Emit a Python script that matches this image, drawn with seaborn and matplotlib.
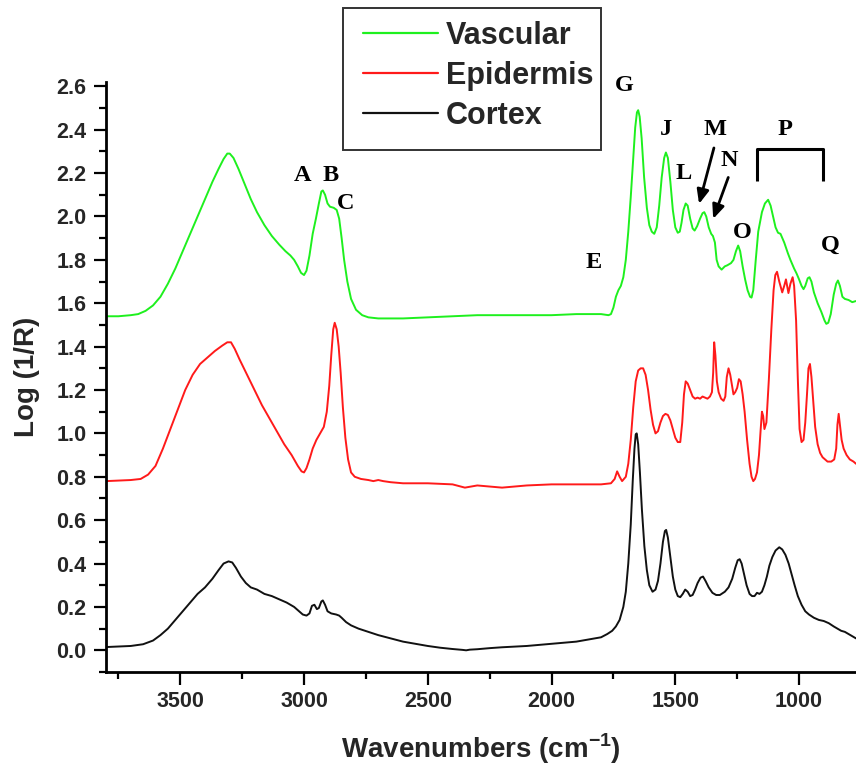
import numpy as np
import pandas as pd
import matplotlib
matplotlib.use("Agg")
import matplotlib.pyplot as plt
from matplotlib.ticker import MultipleLocator, FormatStrFormatter
from matplotlib.patches import Rectangle
from matplotlib.lines import Line2D
import seaborn as sns

# FTIR spectra (wavenumber in cm^-1, Log(1/R))
vascular_wn = [3800, 3750, 3700, 3670, 3640, 3610, 3580, 3550, 3520, 3490, 3460, 3430, 3400,
               3370, 3345, 3325, 3310, 3300, 3285, 3265, 3240, 3215, 3190, 3160, 3130, 3100,
               3075, 3055, 3040, 3025, 3012, 3000, 2990, 2978, 2965, 2952, 2940, 2930, 2924,
               2915, 2905, 2895, 2880, 2868, 2858, 2848, 2838, 2825, 2810, 2790, 2765, 2740,
               2700, 2650, 2600, 2500, 2400, 2300, 2200, 2100, 2000, 1900, 1800, 1770, 1760,
               1750, 1740, 1730, 1720, 1710, 1700, 1690, 1680, 1670, 1662, 1655, 1650, 1644,
               1636, 1626, 1615, 1605, 1595, 1585, 1575, 1565, 1555, 1545, 1538, 1530, 1520,
               1510, 1500, 1490, 1482, 1475, 1467, 1458, 1450, 1440, 1430, 1422, 1412, 1400,
               1390, 1383, 1375, 1365, 1355, 1348, 1340, 1333, 1325, 1313, 1300, 1290, 1275,
               1265, 1255, 1246, 1238, 1228, 1218, 1208, 1198, 1192, 1185, 1175, 1165, 1150,
               1138, 1125, 1115, 1105, 1095, 1085, 1075, 1060, 1045, 1035, 1020, 1010, 1000,
               990, 982, 975, 965, 958, 950, 940, 925, 910, 897, 890, 882, 872, 860, 850, 843,
               835, 825, 815, 800, 785, 771]
vascular_val = [1.54, 1.54, 1.545, 1.55, 1.565, 1.59, 1.63, 1.69, 1.76, 1.84, 1.92, 2.00, 2.08,
                2.16, 2.22, 2.265, 2.29, 2.29, 2.27, 2.22, 2.15, 2.08, 2.02, 1.96, 1.91, 1.87,
                1.84, 1.82, 1.80, 1.77, 1.74, 1.73, 1.75, 1.82, 1.92, 1.99, 2.06, 2.115, 2.12,
                2.10, 2.06, 2.045, 2.04, 2.03, 1.99, 1.90, 1.80, 1.70, 1.62, 1.57, 1.545, 1.535,
                1.53, 1.53, 1.53, 1.535, 1.54, 1.545, 1.545, 1.545, 1.545, 1.55, 1.55, 1.545, 1.55,
                1.58, 1.63, 1.66, 1.68, 1.72, 1.80, 1.93, 2.09, 2.27, 2.41, 2.48, 2.49, 2.46,
                2.36, 2.18, 2.04, 1.96, 1.93, 1.92, 1.95, 2.05, 2.18, 2.27, 2.295, 2.27, 2.16,
                2.03, 1.95, 1.925, 1.93, 1.97, 2.03, 2.06, 2.05, 1.99, 1.945, 1.935, 1.955, 1.99,
                2.015, 2.02, 2.00, 1.95, 1.92, 1.91, 1.88, 1.80, 1.77, 1.755, 1.77, 1.775, 1.785,
                1.80, 1.84, 1.866, 1.84, 1.77, 1.71, 1.66, 1.63, 1.626, 1.66, 1.80, 1.93, 2.02,
                2.06, 2.077, 2.05, 2.00, 1.95, 1.925, 1.92, 1.88, 1.83, 1.80, 1.76, 1.737, 1.71,
                1.68, 1.665, 1.68, 1.715, 1.72, 1.70, 1.65, 1.60, 1.56, 1.52, 1.505, 1.51, 1.55,
                1.64, 1.69, 1.705, 1.68, 1.63, 1.62, 1.615, 1.605, 1.61]

epidermis_wn = [3800, 3700, 3660, 3630, 3600, 3570, 3540, 3510, 3480, 3450, 3420, 3390, 3360,
                3330, 3310, 3295, 3280, 3260, 3230, 3200, 3170, 3140, 3110, 3080, 3050, 3025,
                3010, 3000, 2990, 2978, 2965, 2950, 2935, 2920, 2908, 2898, 2890, 2882, 2876,
                2868, 2860, 2852, 2843, 2833, 2822, 2810, 2795, 2770, 2740, 2720, 2700, 2680,
                2650, 2600, 2500, 2400, 2350, 2300, 2250, 2200, 2100, 2000, 1900, 1800, 1760,
                1745, 1735, 1725, 1715, 1700, 1690, 1680, 1670, 1660, 1650, 1640, 1630, 1620,
                1610, 1600, 1590, 1580, 1570, 1560, 1550, 1540, 1530, 1520, 1510, 1500, 1490,
                1480, 1472, 1465, 1458, 1450, 1440, 1430, 1420, 1410, 1400, 1390, 1380, 1370,
                1360, 1352, 1347, 1343, 1338, 1332, 1325, 1315, 1305, 1298, 1292, 1285, 1278,
                1272, 1265, 1258, 1250, 1243, 1236, 1228, 1220, 1210, 1200, 1192, 1185, 1178,
                1170, 1162, 1155, 1150, 1145, 1140, 1132, 1122, 1112, 1103, 1096, 1089, 1080,
                1068, 1060, 1053, 1048, 1043, 1035, 1026, 1020, 1012, 1005, 998, 990, 982,
                975, 968, 962, 956, 950, 943, 935, 925, 915, 905, 895, 885, 870, 858, 850,
                845, 840, 835, 828, 820, 808, 795, 780, 770]
epidermis_val = [0.78, 0.785, 0.79, 0.81, 0.85, 0.93, 1.02, 1.11, 1.20, 1.27, 1.32, 1.35, 1.38,
                 1.405, 1.42, 1.42, 1.39, 1.34, 1.27, 1.20, 1.13, 1.07, 1.01, 0.95, 0.90, 0.85,
                 0.825, 0.82, 0.84, 0.88, 0.93, 0.97, 1.00, 1.03, 1.10, 1.22, 1.36, 1.48, 1.51,
                 1.48, 1.40, 1.28, 1.12, 0.98, 0.88, 0.82, 0.80, 0.79, 0.785, 0.78, 0.785, 0.78,
                 0.775, 0.77, 0.77, 0.765, 0.75, 0.76, 0.755, 0.75, 0.76, 0.765, 0.765, 0.765, 0.77,
                 0.79, 0.825, 0.80, 0.78, 0.80, 0.86, 0.97, 1.12, 1.24, 1.29, 1.30, 1.30, 1.27,
                 1.20, 1.11, 1.04, 1.00, 1.01, 1.05, 1.08, 1.09, 1.085, 1.06, 1.02, 0.98, 0.96,
                 0.96, 1.05, 1.18, 1.24, 1.23, 1.20, 1.17, 1.16, 1.165, 1.16, 1.17, 1.165, 1.16,
                 1.17, 1.19, 1.28, 1.42, 1.36, 1.24, 1.19, 1.16, 1.15, 1.17, 1.26, 1.30, 1.27,
                 1.23, 1.18, 1.19, 1.21, 1.25, 1.24, 1.18, 1.10, 0.97, 0.86, 0.80, 0.78, 0.79,
                 0.82, 0.90, 1.02, 1.10, 1.08, 1.02, 1.05, 1.25, 1.48, 1.66, 1.73, 1.745, 1.70,
                 1.65, 1.68, 1.71, 1.68, 1.647, 1.69, 1.72, 1.68, 1.52, 1.25, 1.02, 0.96, 0.97,
                 1.05, 1.18, 1.30, 1.32, 1.26, 1.15, 1.03, 0.95, 0.91, 0.89, 0.88, 0.87, 0.87,
                 0.88, 0.93, 1.04, 1.09, 1.04, 0.97, 0.93, 0.90, 0.88, 0.87, 0.86]

cortex_wn = [3800, 3700, 3650, 3610, 3580, 3550, 3520, 3490, 3460, 3430, 3400, 3370, 3345,
             3325, 3305, 3290, 3275, 3255, 3235, 3215, 3190, 3160, 3130, 3100, 3070, 3040,
             3020, 3005, 2990, 2978, 2968, 2958, 2948, 2940, 2930, 2924, 2915, 2905, 2890,
             2870, 2858, 2848, 2830, 2810, 2780, 2740, 2700, 2650, 2600, 2550, 2500, 2450,
             2400, 2360, 2345, 2330, 2300, 2250, 2200, 2100, 2000, 1900, 1850, 1800, 1775,
             1755, 1740, 1725, 1710, 1700, 1690, 1680, 1672, 1665, 1660, 1656, 1650, 1643,
             1635, 1625, 1615, 1605, 1592, 1580, 1570, 1560, 1550, 1542, 1537, 1530, 1520,
             1510, 1500, 1490, 1480, 1470, 1460, 1450, 1440, 1430, 1420, 1410, 1398, 1388,
             1378, 1365, 1350, 1335, 1320, 1300, 1285, 1270, 1258, 1248, 1240, 1232, 1222,
             1212, 1200, 1190, 1180, 1170, 1160, 1150, 1140, 1130, 1120, 1108, 1095, 1080,
             1068, 1055, 1042, 1030, 1018, 1005, 990, 975, 960, 940, 920, 900, 880, 860,
             845, 830, 815, 800, 785, 770]
cortex_val = [0.015, 0.02, 0.028, 0.045, 0.07, 0.10, 0.14, 0.18, 0.22, 0.26, 0.29, 0.33, 0.37,
              0.40, 0.41, 0.405, 0.38, 0.34, 0.31, 0.29, 0.28, 0.26, 0.25, 0.235, 0.22, 0.20,
              0.18, 0.165, 0.16, 0.17, 0.205, 0.21, 0.19, 0.195, 0.225, 0.23, 0.21, 0.18, 0.17,
              0.165, 0.16, 0.15, 0.13, 0.115, 0.10, 0.085, 0.07, 0.055, 0.04, 0.03, 0.02, 0.012,
              0.006, 0.002, 0.0, 0.003, 0.005, 0.01, 0.014, 0.02, 0.03, 0.04, 0.05, 0.06, 0.075,
              0.09, 0.11, 0.14, 0.20, 0.27, 0.40, 0.58, 0.78, 0.93, 0.995, 1.00, 0.95, 0.82,
              0.65, 0.48, 0.37, 0.30, 0.27, 0.28, 0.32, 0.40, 0.50, 0.55, 0.555, 0.52, 0.43,
              0.34, 0.28, 0.25, 0.245, 0.26, 0.28, 0.27, 0.25, 0.255, 0.28, 0.31, 0.335, 0.34,
              0.32, 0.29, 0.265, 0.255, 0.255, 0.27, 0.29, 0.33, 0.38, 0.415, 0.42, 0.40, 0.35,
              0.30, 0.26, 0.25, 0.25, 0.265, 0.26, 0.27, 0.30, 0.34, 0.39, 0.43, 0.46, 0.475,
              0.465, 0.44, 0.40, 0.35, 0.30, 0.25, 0.21, 0.18, 0.165, 0.15, 0.14, 0.135, 0.125, 0.11,
              0.10, 0.09, 0.085, 0.075, 0.065, 0.055]

series_names = ["Vascular", "Epidermis", "Cortex"]
series_colors = {"Vascular": "#1EF01E", "Epidermis": "#FF1A1A", "Cortex": "#111111"}

# Band labels: (text, wavenumber, value)
band_labels = [("A", 3007, 2.19), ("B", 2891, 2.19), ("C", 2831, 2.06), ("E", 1828, 1.79),
               ("G", 1704, 2.606), ("J", 1539, 2.40), ("L", 1468, 2.196), ("M", 1340, 2.40),
               ("N", 1283, 2.257), ("O", 1230, 1.927), ("P", 1055, 2.40), ("Q", 872, 1.866)]
# Arrows: (tail wn, tail val, head wn, head val)
band_arrows = [(1344, 2.316, 1404, 2.058), (1286, 2.180, 1347, 1.989)]
# Bracket spanning the P region
bracket_wn = [1169, 903]
bracket_val = [2.165, 2.311]

frames = []
for name, wn, val in [("Vascular", vascular_wn, vascular_val),
                      ("Epidermis", epidermis_wn, epidermis_val),
                      ("Cortex", cortex_wn, cortex_val)]:
    frames.append(pd.DataFrame({"wn": wn, "val": val, "tissue": name}))
df = pd.concat(frames, ignore_index=True)

sns.set_theme(style="ticks")
plt.rcParams["font.family"] = ["Liberation Sans", "DejaVu Sans"]
plt.rcParams["font.weight"] = "bold"
plt.rcParams["mathtext.fontset"] = "custom"
plt.rcParams["mathtext.rm"] = "Liberation Sans:bold"
plt.rcParams["mathtext.bf"] = "Liberation Sans:bold"

fig = plt.figure(figsize=(8.56, 7.73), dpi=100)
W, H = 856, 773
ax = fig.add_axes([106 / W, (H - 672) / H, 750 / W, 590 / H])

sns.lineplot(data=df, x="wn", y="val", hue="tissue", hue_order=series_names,
             palette=series_colors, estimator=None, sort=True, linewidth=1.4,
             ax=ax, legend=False)

ax.set_xlim(3800, 770)
ax.set_ylim(-0.1, 2.62)
ax.xaxis.set_major_locator(MultipleLocator(500))
ax.xaxis.set_minor_locator(MultipleLocator(250))
ax.yaxis.set_major_locator(MultipleLocator(0.2))
ax.yaxis.set_minor_locator(MultipleLocator(0.1))
ax.yaxis.set_major_formatter(FormatStrFormatter("%.1f"))

for s in ["top", "right"]:
    ax.spines[s].set_visible(False)
for s in ["left", "bottom"]:
    ax.spines[s].set_linewidth(2.0)
    ax.spines[s].set_color("black")

ax.tick_params(axis="both", which="major", direction="out", length=9, width=1.6,
               labelsize=15.5, color="black")
ax.tick_params(axis="both", which="minor", direction="out", length=5, width=1.6,
               color="black")
ax.tick_params(axis="x", which="major", pad=5)
ax.tick_params(axis="y", which="major", pad=5)
for lbl in ax.get_xticklabels() + ax.get_yticklabels():
    lbl.set_fontweight("bold")

ax.set_xlabel(r"Wavenumbers (cm$^{-1}$)", fontsize=20, fontweight="bold", labelpad=14)
ax.set_ylabel("Log (1/R)", fontsize=20, fontweight="bold", labelpad=12)

# Band letters, arrows and bracket
for txt, x, y in band_labels:
    ax.text(x, y, txt, ha="center", va="center", fontsize=17.5, fontweight="bold",
            family=["Liberation Serif", "DejaVu Serif"], color="black")
for x0, y0, x1, y1 in band_arrows:
    ax.annotate("", xy=(x1, y1), xytext=(x0, y0),
                arrowprops=dict(arrowstyle="-|>,head_length=0.7,head_width=0.3",
                                color="black", lw=2.0, shrinkA=0, shrinkB=0))
ax.plot([bracket_wn[0], bracket_wn[0], bracket_wn[1], bracket_wn[1]],
        [bracket_val[0], bracket_val[1], bracket_val[1], bracket_val[0]],
        color="black", lw=2.2, solid_capstyle="butt", clip_on=False)

# Legend with a square frame
handles = [Line2D([], [], color=series_colors[n], lw=1.6) for n in series_names]
leg = fig.legend(handles, series_names, loc="upper left",
                 bbox_to_anchor=(363 / W, 1 - 21 / H), frameon=False,
                 prop={"family": "Liberation Sans", "weight": "bold", "size": 22},
                 handlelength=2.45, handletextpad=0.26, labelspacing=0.33, borderpad=0.0,
                 borderaxespad=0)
fig.add_artist(Rectangle((343 / W, 1 - 150 / H), 258 / W, 142 / H, transform=fig.transFigure,
                         fill=False, edgecolor="#333333", lw=1.4))

fig.savefig("out.png", dpi=100)
